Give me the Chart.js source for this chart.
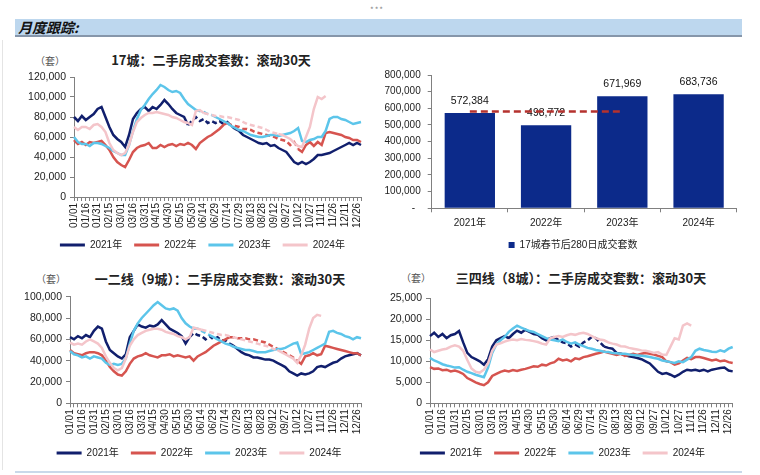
<!DOCTYPE html>
<html>
<head>
<meta charset="utf-8">
<script src="https://cdn.jsdelivr.net/npm/chart.js@4.4.1/dist/chart.umd.min.js"></script>
<style>
  body { margin: 0; width: 760px; height: 475px; background: #fff; position: relative; overflow: hidden; font-family: "Noto Sans CJK SC", sans-serif; }
  .abs { position: absolute; }
  .c { transform: translate(-50%, -50%); white-space: nowrap; }
  .title { font-size: 13px; font-weight: bold; color: #222; }
  .unit { font-size: 10px; color: #555; }
</style>
</head>
<body>
<div class="abs" style="left:2px;top:40px;width:1px;height:430px;background:#e4e4e4"></div>
<div class="abs c" style="left:377px;top:9px;font-size:8px;color:#888;letter-spacing:1px">***</div>
<div class="abs" style="left:15px;top:19px;width:727px;height:16px;background:#bdd7ee"></div>
<div class="abs" style="left:15px;top:35px;width:727px;height:2px;background:#8696aa"></div>
<div class="abs" style="left:18px;top:18px;font-size:14px;font-weight:bold;font-style:italic;line-height:18px;color:#111">月度跟踪:</div>
<div class="abs" style="left:15px;top:471px;width:727px;height:2px;background:#c9d9ea"></div>

<div class="abs c unit" style="left:50px;top:60px">（套）</div>
<div class="abs c title" style="left:211px;top:59px">17城：二手房成交套数：滚动30天</div>
<div class="abs c unit" style="left:51px;top:278px">（套）</div>
<div class="abs c title" style="left:220px;top:278px">一二线（9城）：二手房成交套数：滚动30天</div>
<div class="abs c unit" style="left:416px;top:277px">（套）</div>
<div class="abs c title" style="left:581px;top:277px">三四线（8城）：二手房成交套数：滚动30天</div>

<div class="abs" style="left:0;top:65px;width:375px;height:195px"><canvas id="c17"></canvas></div>
<div class="abs" style="left:370px;top:62px;width:385px;height:198px"><canvas id="cBar"></canvas></div>
<div class="abs" style="left:0;top:285px;width:375px;height:183px"><canvas id="c9"></canvas></div>
<div class="abs" style="left:380px;top:285px;width:370px;height:183px"><canvas id="c8"></canvas></div>

<script>
Chart.defaults.font.family = '"Liberation Sans", "Noto Sans CJK SC", sans-serif'
Chart.defaults.color = '#222'
Chart.defaults.animation = false

// x axis: one point every 5 days, labelled every 15 days
const tickLabels = ['01/01', '01/16', '01/31', '02/15', '03/01', '03/16', '03/31', '04/15', '04/30', '05/15',
    '05/30', '06/14', '06/29', '07/14', '07/29', '08/13', '08/28', '09/12', '09/27', '10/12',
    '10/27', '11/11', '11/26', '12/11', '12/26']
const years = ['2021年', '2022年', '2023年', '2024年']
const colors = ['#111f6d', '#d6544f', '#5cc5ea', '#f4c5ca']

// 17城
const c17_2021 = [80000, 76000, 81000, 77000, 80000, 83000, 88000, 90000, 80000, 70000,
    62000, 58000, 55000, 50000, 62000, 78000, 84000, 88000, 90000, 86000,
    90000, 88000, 92000, 97000, 93000, 88000, 84000, 82000, 80000, 72000,
    76000, 80000, 76000, 78000, 74000, 76000, 74000, 76000, 73000, 75000,
    71000, 68000, 66000, 62000, 60000, 58000, 56000, 54000, 53000, 54000,
    51000, 52000, 49000, 47000, 45000, 40000, 35000, 33000, 35000, 33000,
    35000, 38000, 42000, 42000, 43000, 44000, 46000, 48000, 50000, 52000,
    54000, 52000, 54000, 52000]
const c17_2022 = [57000, 53000, 55000, 52000, 55000, 54000, 55000, 56000, 52000, 47000,
    40000, 35000, 32000, 30000, 37000, 45000, 49000, 51000, 52000, 54000,
    49000, 49000, 52000, 50000, 52000, 53000, 51000, 53000, 52000, 54000,
    52000, 48000, 54000, 57000, 60000, 62000, 65000, 68000, 72000, 74000,
    72000, 71000, 70000, 68000, 68000, 67000, 65000, 64000, 63000, 62000,
    61000, 60000, 58000, 57000, 56000, 52000, 55000, 48000, 45000, 52000,
    55000, 51000, 55000, 52000, 64000, 65000, 64000, 63000, 62000, 60000,
    59000, 57000, 57000, 55000]
const c17_2023 = [60000, 55000, 53000, 53000, 51000, 54000, 54000, 53000, 51000, 49000,
    46000, 44000, 42000, 42000, 52000, 66000, 78000, 87000, 92000, 98000,
    103000, 107000, 112000, 110000, 107000, 105000, 106000, 104000, 98000, 93000,
    90000, 87000, 86000, 85000, 83000, 82000, 80000, 78000, 76000, 74000,
    71000, 69000, 67000, 66000, 64000, 62000, 61000, 60000, 60000, 61000,
    62000, 62000, 61000, 62000, 63000, 64000, 66000, 69000, 56000, 55000,
    57000, 58000, 60000, 60000, 66000, 78000, 80000, 80000, 78000, 77000,
    75000, 73000, 74000, 75000]
const c17_2024 = [70000, 67000, 70000, 70000, 68000, 72000, 73000, 70000, 65000, 54000,
    47000, 44000, 42000, 44000, 52000, 65000, 75000, 79000, 82000, 84000,
    84000, 85000, 84000, 83000, 82000, 80000, 79000, 77000, 75000, 74000,
    72000, 86000, 87000, 84000, 83000, 82000, 81000, 81000, 80000, 80000,
    79000, 78000, 77000, 75000, 73000, 72000, 71000, 70000, 69000, 67000,
    65000, 64000, 63000, 62000, 60000, 58000, 54000, 51000, 50000, 60000,
    70000, 88000, 100000, 98000, 101000, null, null, null, null, null,
    null, null, null, null]

// 一二线（9城）
const c9_2021 = [62000, 60000, 63000, 61000, 64000, 62000, 68000, 72000, 70000, 58000,
    50000, 47000, 44000, 42000, 46000, 62000, 68000, 74000, 72000, 71000,
    73000, 72000, 74000, 78000, 74000, 70000, 68000, 66000, 63000, 56000,
    62000, 66000, 64000, 63000, 60000, 63000, 60000, 62000, 59000, 59000,
    56000, 54000, 51000, 48000, 46000, 45000, 43000, 43000, 42000, 41000,
    41000, 40000, 38000, 36000, 34000, 30000, 28000, 26000, 28000, 27000,
    28000, 30000, 34000, 35000, 34000, 36000, 38000, 39000, 42000, 44000,
    45000, 46000, 47000, 45000]
const c9_2022 = [50000, 47000, 46000, 45000, 47000, 48000, 48000, 47000, 45000, 40000,
    34000, 30000, 27000, 26000, 30000, 37000, 42000, 44000, 45000, 47000,
    45000, 44000, 43000, 45000, 45000, 46000, 44000, 45000, 44000, 43000,
    44000, 40000, 44000, 46000, 48000, 51000, 54000, 56000, 58000, 60000,
    62000, 62000, 61000, 61000, 61000, 60000, 60000, 59000, 58000, 57000,
    55000, 53000, 51000, 49000, 47000, 45000, 43000, 40000, 37000, 44000,
    45000, 47000, 45000, 46000, 54000, 53000, 52000, 51000, 50000, 49000,
    48000, 47000, 47000, 45000]
const c9_2023 = [49000, 46000, 45000, 43000, 44000, 42000, 44000, 43000, 42000, 38000,
    36000, 37000, 36000, 37000, 42000, 56000, 68000, 75000, 80000, 84000,
    88000, 92000, 95000, 92000, 89000, 88000, 89000, 87000, 80000, 75000,
    72000, 70000, 70000, 68000, 66000, 64000, 62000, 60000, 58000, 56000,
    55000, 53000, 52000, 51000, 50000, 50000, 49000, 48000, 48000, 48000,
    49000, 50000, 51000, 51000, 52000, 54000, 56000, 57000, 46000, 47000,
    48000, 50000, 52000, 54000, 56000, 67000, 68000, 66000, 65000, 63000,
    62000, 60000, 62000, 61000]
const c9_2024 = [57000, 55000, 56000, 55000, 58000, 60000, 58000, 56000, 52000, 44000,
    38000, 33000, 31000, 33000, 42000, 54000, 60000, 64000, 66000, 68000,
    69000, 70000, 70000, 69000, 67000, 66000, 65000, 63000, 62000, 60000,
    62000, 71000, 70000, 69000, 68000, 67000, 66000, 65000, 64000, 64000,
    63000, 62000, 61000, 60000, 59000, 58000, 57000, 56000, 55000, 54000,
    53000, 51000, 50000, 48000, 46000, 44000, 42000, 38000, 45000, 55000,
    70000, 80000, 83000, 82000, null, null, null, null, null, null,
    null, null, null, null]

// 三四线（8城）
const c8_2021 = [16000, 16800, 15800, 16500, 15500, 16200, 16500, 17200, 14500, 12000,
    11000, 10500, 10000, 9200, 10500, 13500, 15000, 15500, 16000, 15500,
    16500, 17300, 16800, 17500, 17000, 16500, 16300, 15500, 15000, 15500,
    15800, 15000, 14500, 14300, 13500, 14000, 13500, 14500, 15000, 15800,
    15500, 14500, 13500, 13200, 13000, 12000, 11800, 11500, 11200, 11000,
    10800, 10500, 10000, 9500, 8500, 7500, 7000, 7200, 6800, 6300,
    6800, 7500, 8000, 7800, 8000, 7700, 8000, 7600, 8000, 8200,
    8400, 8500, 7800, 7600]
const c8_2022 = [8600, 8200, 8300, 7900, 8000, 7600, 7800, 7500, 7000, 6000,
    5500, 5000, 4600, 4300, 5000, 6500, 7000, 7500, 7800, 7600,
    7900, 7700, 8000, 8200, 8500, 8800, 8700, 9200, 9000, 9500,
    9800, 10600, 10200, 10400, 10000, 10700, 10500, 11000, 11200, 11500,
    11800, 12000, 12300, 12000, 11800, 11500, 11800, 11300, 11500, 11800,
    11500, 11800, 12000, 11800, 11600, 11300, 11000, 10000, 9800, 9200,
    9500, 10200, 10800, 10500, 11000, 11000, 10800, 10500, 10200, 10400,
    10000, 10200, 9800, 9600]
const c8_2023 = [10800, 10200, 9800, 9300, 9000, 8800, 8500, 8600, 8000, 7500,
    7200, 6800, 6500, 6200, 8500, 12000, 14000, 15000, 15800, 17000,
    17800, 18500, 18000, 17600, 17200, 17000, 16500, 16000, 15500, 15200,
    15000, 14800, 15200, 14600, 14200, 14500, 14000, 13600, 13200, 13000,
    12700, 12500, 12300, 12200, 12000, 11900, 11800, 11800, 11600, 11500,
    11400, 11300, 11200, 11000, 10800, 10600, 10200, 10000, 9800, 9600,
    10000, 9800, 10400, 11000, 12500, 13000, 12700, 12500, 12300, 12200,
    12600, 12300, 13000, 13400]
const c8_2024 = [12800, 12200, 12500, 12800, 13000, 13500, 13800, 13500, 12500, 10300,
    8300, 7500, 7300, 8000, 9500, 12500, 14000, 14300, 14700, 15000,
    15200, 15000, 15300, 15100, 15000, 14800, 14600, 14200, 14000, 15500,
    15800, 16000, 15800, 16200, 16500, 16300, 16600, 16800, 16500, 16000,
    15500, 15200, 15000, 14500, 14200, 14000, 13600, 13500, 13200, 13000,
    12800, 12600, 12500, 12300, 12000, 12200, 11600, 11500, 13500, 15500,
    15200, 18500, 19000, 18500, null, null, null, null, null, null,
    null, null, null, null]

// 17城春节后280日成交套数
const barYears = ['2021年', '2022年', '2023年', '2024年']
const barTotals = [572384, 498772, 671969, 683736]
const barAvg = [581042, 581042, 581042, null]

// index ranges drawn dashed (gaps in the source data)
const dash17 = [[29, 41], [39, 57], [31, 35], [33, 52]]
const dash9 = [[30, 41], [40, 57], [31, 35], [33, 52]]
const dash8 = [[30, 42], [0, 0], [0, 0], [0, 0]]

const axisGrey = '#808080'
const fmt = v => v.toLocaleString('en-US')

// nudges the legend sideways without touching the plot area
const legendShift = dx => ({
    id: 'legendShift',
    afterLayout(chart) {
        chart.legend.left += dx
        chart.legend.right += dx
    }
})

const makeLine = (id, series, dashes, yMax, step, pad, yw, xh, dx) => {
    const labels = series[0].map((_, i) => i % 3 === 0 ? tickLabels[i / 3] : '')
    const datasets = series.map((data, k) => ({
        label: years[k],
        data,
        borderColor: colors[k],
        backgroundColor: colors[k],
        borderWidth: 2.5,
        pointRadius: 0,
        tension: 0,
        order: 4 - k,
        segment: {
            borderDash: c => (c.p0DataIndex >= dashes[k][0] && c.p0DataIndex < dashes[k][1]) ? [5, 3] : undefined
        }
    }))

    const options = {
        responsive: true,
        maintainAspectRatio: false,
        layout: { padding: pad },
        plugins: {
            legend: {
                position: 'bottom',
                labels: {
                    boxWidth: 25, boxHeight: 3, padding: 12, color: '#222', font: { size: 10 },
                    sort: (a, b) => a.datasetIndex - b.datasetIndex,
                    generateLabels: ch => Chart.defaults.plugins.legend.labels.generateLabels(ch)
                        .map(l => ({ ...l, lineWidth: 0 }))
                }
            },
            tooltip: { enabled: false }
        },
        scales: {
            x: {
                grid: { drawOnChartArea: false, tickLength: 4, color: axisGrey },
                border: { color: axisGrey },
                ticks: { autoSkip: false, minRotation: 90, maxRotation: 90, padding: 2, font: { size: 10 } },
                afterFit: s => { s.height = xh }
            },
            y: {
                min: 0, max: yMax,
                grid: { drawOnChartArea: false, tickLength: 4, color: axisGrey },
                border: { color: axisGrey },
                ticks: { stepSize: step, padding: 4, font: { size: 10.5 }, callback: fmt },
                afterFit: s => { s.width = yw }
            }
        }
    }

    new Chart(id, { type: 'line', data: { labels, datasets }, options, plugins: [legendShift(dx)] })
}

makeLine('c17', [c17_2021, c17_2022, c17_2023, c17_2024], dash17, 120000, 20000,
    { left: 20, right: 10, top: 12, bottom: 0 }, 54, 31, 9.9)
makeLine('c9', [c9_2021, c9_2022, c9_2023, c9_2024], dash9, 100000, 20000,
    { left: 18, right: 12.3, top: 11.7, bottom: 0 }, 52, 32.7, 8.75)
makeLine('c8', [c8_2021, c8_2022, c8_2023, c8_2024], dash8, 25000, 5000,
    { left: 5, right: 17.3, top: 13.3, bottom: 0 }, 45, 32.7, 3.55)

// value labels above the bars, drawn before the dashed line
const barLabels = {
    id: 'barLabels',
    afterDatasetDraw(chart, args) {
        if (args.index !== 0) return
        const { ctx } = chart
        ctx.save()
        ctx.font = '10.5px "Liberation Sans"'
        ctx.fillStyle = '#111'
        ctx.textAlign = 'center'
        ctx.textBaseline = 'middle'
        args.meta.data.forEach((bar, i) => ctx.fillText(fmt(barTotals[i]), bar.x, bar.y - 12))
        ctx.restore()
    }
}

new Chart('cBar', {
    type: 'bar',
    data: {
        labels: barYears,
        datasets: [{
            label: '17城春节后280日成交套数',
            data: barTotals,
            backgroundColor: '#0c2a8a',
            borderColor: '#0c2a8a',
            borderWidth: 0,
            barPercentage: 0.66,
            categoryPercentage: 1,
            order: 2
        }, {
            type: 'line',
            label: 'avg',
            data: barAvg,
            borderColor: '#b5322e',
            borderWidth: 2.5,
            borderDash: [7, 4],
            pointRadius: 0,
            order: 1
        }]
    },
    options: {
        responsive: true,
        maintainAspectRatio: false,
        layout: { padding: { left: 8, right: 18.3, top: 8, bottom: 0 } },
        plugins: {
            legend: {
                position: 'bottom',
                labels: {
                    boxWidth: 6, boxHeight: 6, padding: 10, color: '#222', font: { size: 10 },
                    filter: item => item.datasetIndex === 0
                }
            },
            tooltip: { enabled: false }
        },
        scales: {
            x: {
                grid: { drawOnChartArea: false, offset: true, tickLength: 4, color: axisGrey },
                border: { color: axisGrey },
                ticks: { padding: 5, font: { size: 10 } },
                afterFit: s => { s.height = 21.7 }
            },
            y: {
                min: 0, max: 800000,
                grid: { drawOnChartArea: false, tickLength: 4, color: axisGrey },
                border: { color: axisGrey },
                ticks: { stepSize: 100000, padding: 7, font: { size: 10 }, callback: v => v === 0 ? '-  ' : fmt(v) },
                afterFit: s => { s.width = 53.7 }
            }
        }
    },
    plugins: [barLabels, legendShift(15.65)]
})
</script>
</body>
</html>
